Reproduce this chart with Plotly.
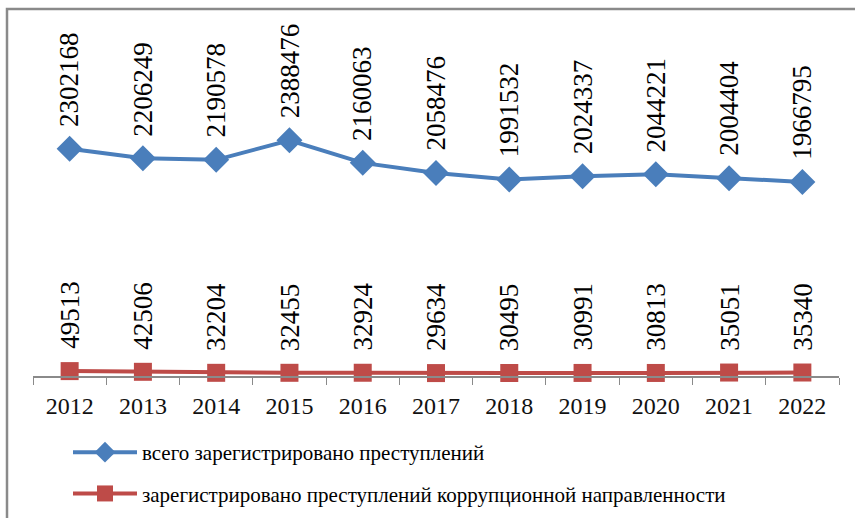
import plotly.graph_objects as go

years = ["2012", "2013", "2014", "2015", "2016", "2017", "2018", "2019", "2020", "2021", "2022"]
total_crimes = [2302168, 2206249, 2190578, 2388476, 2160063, 2058476, 1991532, 2024337, 2044221, 2004404, 1966795]
corruption_crimes = [49513, 42506, 32204, 32455, 32924, 29634, 30495, 30991, 30813, 35051, 35340]
name_total = "всего зарегистрировано преступлений"
name_corr = "зарегистрировано преступлений коррупционной направленности"

BLUE = "#4A7EBB"
RED = "#BE4B48"
FONT = "Liberation Serif"

W, H = 855, 518
ML, MR, MT, MB = 33, 16, 80, 142
pw = W - ML - MR
ph = H - MT - MB

def px_x(p):
    return (p - ML) / pw

def px_y(p):
    return (H - MB - p) / ph

fig = go.Figure()
fig.add_trace(go.Scatter(
    x=years, y=total_crimes, name=name_total, mode="lines+markers",
    line=dict(color=BLUE, width=4),
    marker=dict(symbol="diamond", size=20, color=BLUE),
    legendgroup="a", cliponaxis=False,
))
fig.add_trace(go.Scatter(
    x=years, y=corruption_crimes, name=name_corr, mode="lines+markers",
    line=dict(color=RED, width=4),
    marker=dict(symbol="square", size=18, color=RED),
    legendgroup="b", cliponaxis=False,
))

annotations = []
for series in (total_crimes, corruption_crimes):
    for i, v in enumerate(series):
        annotations.append(dict(
            x=i, y=v, xref="x", yref="y", text=str(v), showarrow=False,
            textangle=-90, yanchor="bottom", xanchor="center", yshift=20,
            font=dict(family=FONT, size=27, color="#000000"),
        ))

fig.update_layout(
    width=W, height=H,
    margin=dict(l=ML, r=MR, t=MT, b=MB),
    paper_bgcolor="white", plot_bgcolor="white",
    font=dict(family=FONT, color="#111111"),
    annotations=annotations,
    showlegend=True,
    legend=dict(
        orientation="v", xref="paper", x=px_x(68), xanchor="left",
        yref="container", y=1 - 432 / H, yanchor="top",
        font=dict(family=FONT, size=21, color="#000000"),
        tracegroupgap=11, bgcolor="rgba(0,0,0,0)", itemwidth=64,
    ),
    shapes=[dict(
        type="rect", xref="paper", yref="paper",
        x0=px_x(7), x1=px_x(870), y0=px_y(540), y1=px_y(9),
        line=dict(color="#8A8A8A", width=2.5), fillcolor="rgba(0,0,0,0)", layer="below",
    )],
)
fig.update_xaxes(
    type="category", tickson="boundaries", ticks="outside", ticklen=7,
    tickcolor="#8A8A8A", tickwidth=1, showline=True, linecolor="#8A8A8A", linewidth=1.5,
    showgrid=False, zeroline=False, ticklabelstandoff=7,
    tickfont=dict(family=FONT, size=24, color="#111111"),
    range=[-0.5, 10.5],
)
fig.update_yaxes(
    range=[0, 3000000], visible=False, showgrid=False, zeroline=False,
)

fig.write_html("out.html", config={"displayModeBar": False},
               post_script="document.body.style.margin='0';")
